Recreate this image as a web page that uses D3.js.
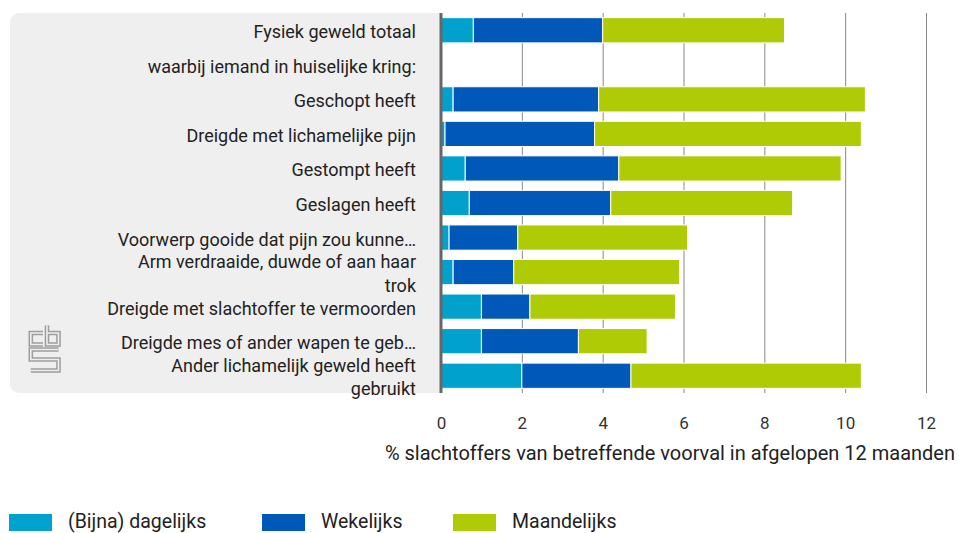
<!DOCTYPE html>
<html>
<head>
<meta charset="utf-8">
<script src="https://cdn.jsdelivr.net/npm/d3@7"></script>
<style>
  body { margin: 0; background: #fff; }
  text { font-family: Roboto, "Noto Sans", sans-serif; fill: #222; }
</style>
</head>
<body>
<div id="chart"></div>
<script>
// data
const categories = [
  "Fysiek geweld totaal",
  "waarbij iemand in huiselijke kring:",
  "Geschopt heeft",
  "Dreigde met lichamelijke pijn",
  "Gestompt heeft",
  "Geslagen heeft",
  "Voorwerp gooide dat pijn zou kunne…",
  "Arm verdraaide, duwde of aan haar\ntrok",
  "Dreigde met slachtoffer te vermoorden",
  "Dreigde mes of ander wapen te geb…",
  "Ander lichamelijk geweld heeft\ngebruikt"
];
const dagelijks   = [0.8, 0, 0.3, 0.1, 0.6, 0.7, 0.2, 0.3, 1.0, 1.0, 2.0];
const wekelijks   = [3.2, 0, 3.6, 3.7, 3.8, 3.5, 1.7, 1.5, 1.2, 2.4, 2.7];
const maandelijks = [4.5, 0, 6.6, 6.6, 5.5, 4.5, 4.2, 4.1, 3.6, 1.7, 5.7];
const seriesNames = ["(Bijna) dagelijks", "Wekelijks", "Maandelijks"];
const xTicks = [0, 2, 4, 6, 8, 10, 12];
const axisTitle = "% slachtoffers van betreffende voorval in afgelopen 12 maanden";

const colors = ["#00a1cd", "#0058b8", "#afcb05"];

const width = 959, height = 533;
const margin = {top: 13, left: 441, right: 33, bottom: 140};

let svg = d3.select("#chart")
  .append("svg")
    .attr("width", width)
    .attr("height", height);

// table for the stack
const keys = ["d", "w", "m"];
const table = categories.map((c, i) => ({cat: c, d: dagelijks[i], w: wekelijks[i], m: maandelijks[i]}));
const stacked = d3.stack().keys(keys)(table);

const x = d3.scaleLinear()
  .domain([0, 12])
  .range([margin.left, width - margin.right]);

const y = d3.scaleBand()
  .domain(categories)
  .range([margin.top, height - margin.bottom])
  .paddingInner(0.27)
  .paddingOuter(0.135);

// grey label panel
svg.append("rect")
  .attr("x", 10)
  .attr("y", margin.top)
  .attr("width", margin.left - 10 + 12)
  .attr("height", height - margin.bottom - margin.top)
  .attr("rx", 9)
  .style("fill", "#efefef");
svg.append("rect")
  .attr("x", margin.left)
  .attr("y", margin.top)
  .attr("width", 14)
  .attr("height", height - margin.bottom - margin.top)
  .style("fill", "#fff");

// cbs logo
const logo = svg.append("g").attr("transform", "translate(29,324)");
const logoPaths = [
  "M14,9 H1.8 V20.5 H14",
  "M18,1.5 V20.5 H29.5 V9 H18",
  "M29.5,25.5 H1.8 V35.5 H29.5 V46.5 H1.8"
];
logo.selectAll("path.o").data(logoPaths).enter().append("path")
  .attr("d", d => d).style("fill", "none").style("stroke", "#9d9d9d").style("stroke-width", 4.6);
logo.selectAll("path.i").data(logoPaths).enter().append("path")
  .attr("d", d => d).style("fill", "none").style("stroke", "#efefef").style("stroke-width", 1.6);

// gridlines
svg.append("g")
  .attr("transform", "translate(0," + (height - margin.bottom) + ")")
  .call(d3.axisBottom(x).tickValues(xTicks.slice(1)).tickSize(height - margin.bottom - margin.top).tickFormat(""))
  .call(g => g.select(".domain").remove())
  .call(g => g.selectAll(".tick line")
      .attr("y2", -(height - margin.bottom - margin.top))
      .style("stroke", "#888"));

// tick labels
svg.append("g")
  .attr("transform", "translate(0," + (height - margin.bottom) + ")")
  .call(d3.axisBottom(x).tickValues(xTicks).tickSize(0).tickPadding(24))
  .call(g => g.select(".domain").remove())
  .call(g => g.selectAll("text")
      .style("font-family", "Roboto, sans-serif")
      .style("font-size", "17px")
      .style("fill", "#333"));

// bars
svg.append("g")
  .selectAll("g")
  .data(stacked)
  .enter()
  .append("g")
    .style("fill", (d, i) => colors[i])
  .selectAll("rect")
  .data(d => d.filter(p => p[1] > p[0]))
  .enter()
  .append("rect")
    .attr("x", d => x(d[0]))
    .attr("y", d => y(d.data.cat))
    .attr("width", d => x(d[1]) - x(d[0]))
    .attr("height", y.bandwidth())
    .style("stroke", "#fff")
    .style("stroke-width", 1);

// axis line at zero
svg.append("line")
  .attr("x1", x(0)).attr("x2", x(0))
  .attr("y1", margin.top).attr("y2", height - margin.bottom)
  .style("stroke", "#666")
  .style("stroke-width", 3);

// category labels
const lab = svg.append("g")
  .selectAll("text")
  .data(categories)
  .enter()
  .append("text")
    .attr("text-anchor", "end")
    .style("font-size", "18px");
lab.each(function(d) {
  const lines = d.split("\n");
  const cy = y(d) + y.bandwidth() / 2;
  d3.select(this).selectAll("tspan")
    .data(lines)
    .enter()
    .append("tspan")
      .attr("x", 416)
      .attr("y", (l, k) => cy + 8 + (k - (lines.length - 1) / 2) * 23.5)
      .text(l => l);
});

// axis title
svg.append("text")
  .attr("x", 955)
  .attr("y", 460)
  .attr("text-anchor", "end")
  .style("font-size", "20px")
  .text(axisTitle);

// legend
const legendX = [9, 262, 453];
const legend = svg.append("g")
  .selectAll("g")
  .data(seriesNames)
  .enter()
  .append("g")
    .attr("transform", (d, i) => "translate(" + legendX[i] + ",514)");
legend.append("rect")
  .attr("width", 43)
  .attr("height", 17)
  .style("fill", (d, i) => colors[i]);
legend.append("text")
  .attr("x", 59)
  .attr("y", 14)
  .style("font-size", "19.5px")
  .text(d => d);
</script>
</body>
</html>
